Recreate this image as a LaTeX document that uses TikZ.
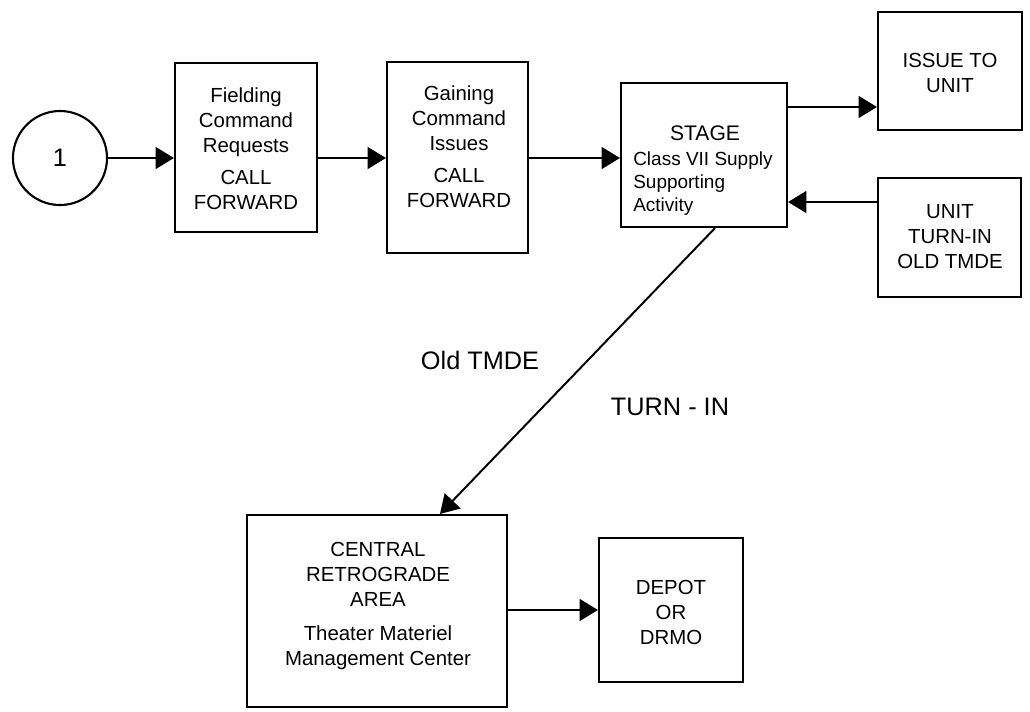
\documentclass[tikz,border=0pt]{standalone}
\usepackage{fontspec}
\setmainfont{Liberation Sans}
\usetikzlibrary{positioning,arrows.meta,fit}

\begin{document}
\begin{tikzpicture}[x=0.025cm,y=-0.025cm,
  font=\fontsize{14.5}{17.8}\selectfont,
  box/.style={draw, line width=1.5pt, inner sep=0pt},
  flow/.style={line width=1.4pt, -{Triangle[length=13pt,width=15.5pt]}},
  lbl/.style={align=center, inner sep=0pt},
  biglbl/.style={inner sep=0pt, font=\fontsize{18}{22}\selectfont}]
\useasboundingbox (0,0) rectangle (1030,711);
% start marker
\node[circle, draw, line width=1.5pt, minimum size=2.35cm, inner sep=0pt,
  font=\fontsize{18}{22}\selectfont] (one) at (60,158) {1};
% boxes
\node[box, fit={(175,63) (317,232)}] (fld) {};
\node[box, fit={(387,62) (528,253)}] (gain) {};
\node[box, fit={(621,83) (787,227)}] (stage) {};
\node[box, fit={(878,12) (1022,130)}] (issue) {};
\node[box, fit={(878,178) (1021,297)}] (unit) {};
\node[box, fit={(247,515) (507,707)}] (central) {};
\node[box, fit={(599,538) (743,682)}] (depot) {};
% box texts
\node[lbl] (fldtxt) at (246,149) {Fielding\\Command\\Requests\\[5pt]CALL\\FORWARD};
\node[lbl] (gaintxt) at (459,147) {Gaining\\Command\\Issues\\[5pt]CALL\\FORWARD};
\node[lbl, font=\fontsize{15}{18}\selectfont] (stagettl) at (705,133) {STAGE};
\node[lbl, align=left, anchor=west, font=\fontsize{13.5}{16.4}\selectfont] (stagetxt) at (633,184) {Class VII Supply\\Supporting\\Activity};
\node[lbl] (issuetxt) at (950,73) {ISSUE TO\\UNIT};
\node[lbl] (unittxt) at (950,237) {UNIT\\TURN-IN\\OLD TMDE};
\node[lbl] (centraltxt) at (378,606) {CENTRAL\\RETROGRADE\\AREA\\[6pt]Theater Materiel\\Management Center};
\node[lbl] (depottxt) at (671,612) {DEPOT\\OR\\DRMO};
% labels on the turn-in path
\node[biglbl] (oldlbl) at (480,360) {Old TMDE};
\node[biglbl] (turnlbl) at (670,407) {TURN - IN};
% connectors
\draw[flow] (one) -- (one -| fld.west);
\draw[flow] (fld.east |- one) -- (gain.west |- one);
\draw[flow] (gain.east |- one) -- (stage.west |- one);
\draw[flow] (stage.east |- 0,107) -- (issue.west |- 0,107);
\draw[flow] (unit.west |- 0,202) -- (stage.east |- 0,202);
\draw[flow] (stage.south -| 715,0) -- (central.north -| 440,0);
\draw[flow] (central.east |- depot) -- (depot.west);
\end{tikzpicture}
\end{document}
